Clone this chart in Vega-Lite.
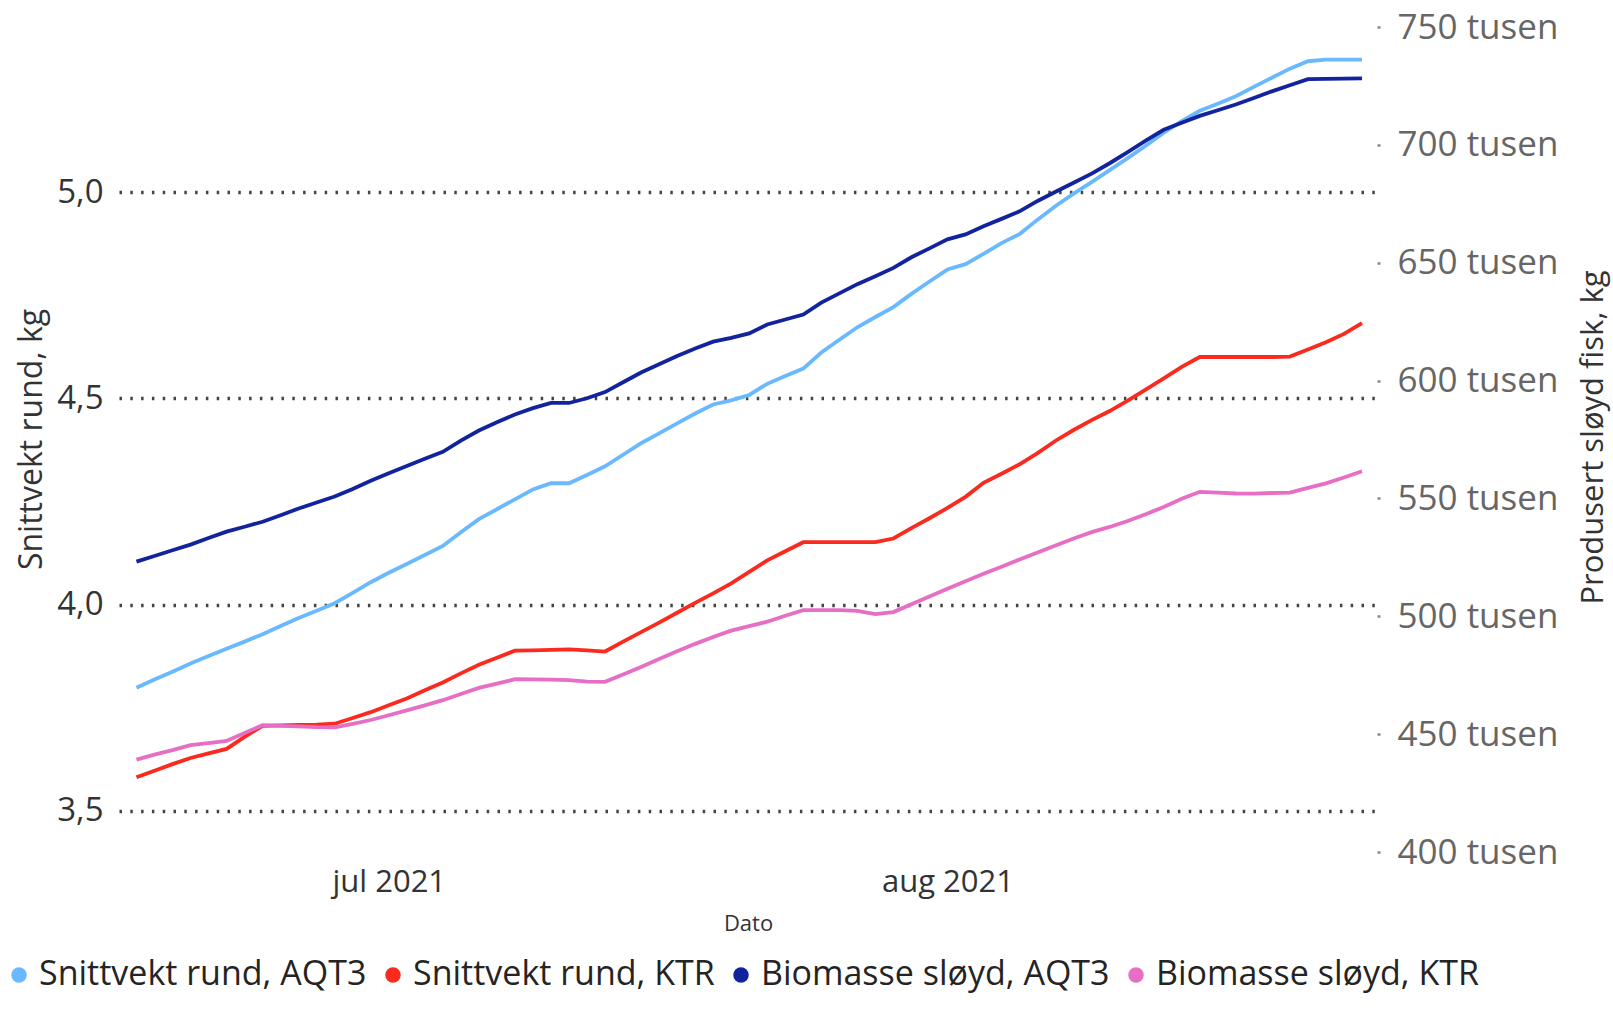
{
"$schema": "https://vega.github.io/schema/vega-lite/v6.json",
"width": 1258, "height": 825,
"autosize": "none",
"padding": {"left": 119, "top": 27, "right": 236, "bottom": 157},
"background": "white",
"config": {"view": {"stroke": null}, "font": "Open Sans"},
"datasets": {
"snitt": [
{"Dato":"2021-06-17","Serie":"Snittvekt rund, AQT3","kg":3.798},
{"Dato":"2021-06-18","Serie":"Snittvekt rund, AQT3","kg":3.818},
{"Dato":"2021-06-19","Serie":"Snittvekt rund, AQT3","kg":3.837},
{"Dato":"2021-06-20","Serie":"Snittvekt rund, AQT3","kg":3.857},
{"Dato":"2021-06-21","Serie":"Snittvekt rund, AQT3","kg":3.875},
{"Dato":"2021-06-22","Serie":"Snittvekt rund, AQT3","kg":3.893},
{"Dato":"2021-06-23","Serie":"Snittvekt rund, AQT3","kg":3.910},
{"Dato":"2021-06-24","Serie":"Snittvekt rund, AQT3","kg":3.928},
{"Dato":"2021-06-25","Serie":"Snittvekt rund, AQT3","kg":3.948},
{"Dato":"2021-06-26","Serie":"Snittvekt rund, AQT3","kg":3.967},
{"Dato":"2021-06-27","Serie":"Snittvekt rund, AQT3","kg":3.985},
{"Dato":"2021-06-28","Serie":"Snittvekt rund, AQT3","kg":4.003},
{"Dato":"2021-06-29","Serie":"Snittvekt rund, AQT3","kg":4.028},
{"Dato":"2021-06-30","Serie":"Snittvekt rund, AQT3","kg":4.054},
{"Dato":"2021-07-01","Serie":"Snittvekt rund, AQT3","kg":4.077},
{"Dato":"2021-07-02","Serie":"Snittvekt rund, AQT3","kg":4.098},
{"Dato":"2021-07-03","Serie":"Snittvekt rund, AQT3","kg":4.120},
{"Dato":"2021-07-04","Serie":"Snittvekt rund, AQT3","kg":4.142},
{"Dato":"2021-07-05","Serie":"Snittvekt rund, AQT3","kg":4.175},
{"Dato":"2021-07-06","Serie":"Snittvekt rund, AQT3","kg":4.207},
{"Dato":"2021-07-07","Serie":"Snittvekt rund, AQT3","kg":4.231},
{"Dato":"2021-07-08","Serie":"Snittvekt rund, AQT3","kg":4.255},
{"Dato":"2021-07-09","Serie":"Snittvekt rund, AQT3","kg":4.279},
{"Dato":"2021-07-10","Serie":"Snittvekt rund, AQT3","kg":4.294},
{"Dato":"2021-07-11","Serie":"Snittvekt rund, AQT3","kg":4.294},
{"Dato":"2021-07-12","Serie":"Snittvekt rund, AQT3","kg":4.314},
{"Dato":"2021-07-13","Serie":"Snittvekt rund, AQT3","kg":4.335},
{"Dato":"2021-07-14","Serie":"Snittvekt rund, AQT3","kg":4.363},
{"Dato":"2021-07-15","Serie":"Snittvekt rund, AQT3","kg":4.391},
{"Dato":"2021-07-16","Serie":"Snittvekt rund, AQT3","kg":4.415},
{"Dato":"2021-07-17","Serie":"Snittvekt rund, AQT3","kg":4.439},
{"Dato":"2021-07-18","Serie":"Snittvekt rund, AQT3","kg":4.463},
{"Dato":"2021-07-19","Serie":"Snittvekt rund, AQT3","kg":4.485},
{"Dato":"2021-07-20","Serie":"Snittvekt rund, AQT3","kg":4.495},
{"Dato":"2021-07-21","Serie":"Snittvekt rund, AQT3","kg":4.508},
{"Dato":"2021-07-22","Serie":"Snittvekt rund, AQT3","kg":4.535},
{"Dato":"2021-07-23","Serie":"Snittvekt rund, AQT3","kg":4.554},
{"Dato":"2021-07-24","Serie":"Snittvekt rund, AQT3","kg":4.572},
{"Dato":"2021-07-25","Serie":"Snittvekt rund, AQT3","kg":4.611},
{"Dato":"2021-07-26","Serie":"Snittvekt rund, AQT3","kg":4.642},
{"Dato":"2021-07-27","Serie":"Snittvekt rund, AQT3","kg":4.672},
{"Dato":"2021-07-28","Serie":"Snittvekt rund, AQT3","kg":4.697},
{"Dato":"2021-07-29","Serie":"Snittvekt rund, AQT3","kg":4.721},
{"Dato":"2021-07-30","Serie":"Snittvekt rund, AQT3","kg":4.753},
{"Dato":"2021-07-31","Serie":"Snittvekt rund, AQT3","kg":4.783},
{"Dato":"2021-08-01","Serie":"Snittvekt rund, AQT3","kg":4.812},
{"Dato":"2021-08-02","Serie":"Snittvekt rund, AQT3","kg":4.825},
{"Dato":"2021-08-03","Serie":"Snittvekt rund, AQT3","kg":4.850},
{"Dato":"2021-08-04","Serie":"Snittvekt rund, AQT3","kg":4.876},
{"Dato":"2021-08-05","Serie":"Snittvekt rund, AQT3","kg":4.898},
{"Dato":"2021-08-06","Serie":"Snittvekt rund, AQT3","kg":4.933},
{"Dato":"2021-08-07","Serie":"Snittvekt rund, AQT3","kg":4.966},
{"Dato":"2021-08-08","Serie":"Snittvekt rund, AQT3","kg":4.996},
{"Dato":"2021-08-09","Serie":"Snittvekt rund, AQT3","kg":5.024},
{"Dato":"2021-08-10","Serie":"Snittvekt rund, AQT3","kg":5.053},
{"Dato":"2021-08-11","Serie":"Snittvekt rund, AQT3","kg":5.082},
{"Dato":"2021-08-12","Serie":"Snittvekt rund, AQT3","kg":5.112},
{"Dato":"2021-08-13","Serie":"Snittvekt rund, AQT3","kg":5.144},
{"Dato":"2021-08-14","Serie":"Snittvekt rund, AQT3","kg":5.172},
{"Dato":"2021-08-15","Serie":"Snittvekt rund, AQT3","kg":5.197},
{"Dato":"2021-08-16","Serie":"Snittvekt rund, AQT3","kg":5.214},
{"Dato":"2021-08-17","Serie":"Snittvekt rund, AQT3","kg":5.232},
{"Dato":"2021-08-18","Serie":"Snittvekt rund, AQT3","kg":5.255},
{"Dato":"2021-08-19","Serie":"Snittvekt rund, AQT3","kg":5.277},
{"Dato":"2021-08-20","Serie":"Snittvekt rund, AQT3","kg":5.299},
{"Dato":"2021-08-21","Serie":"Snittvekt rund, AQT3","kg":5.317},
{"Dato":"2021-08-22","Serie":"Snittvekt rund, AQT3","kg":5.321},
{"Dato":"2021-08-23","Serie":"Snittvekt rund, AQT3","kg":5.321},
{"Dato":"2021-08-24","Serie":"Snittvekt rund, AQT3","kg":5.321},
{"Dato":"2021-06-17","Serie":"Snittvekt rund, KTR","kg":3.581},
{"Dato":"2021-06-18","Serie":"Snittvekt rund, KTR","kg":3.597},
{"Dato":"2021-06-19","Serie":"Snittvekt rund, KTR","kg":3.613},
{"Dato":"2021-06-20","Serie":"Snittvekt rund, KTR","kg":3.628},
{"Dato":"2021-06-21","Serie":"Snittvekt rund, KTR","kg":3.639},
{"Dato":"2021-06-22","Serie":"Snittvekt rund, KTR","kg":3.650},
{"Dato":"2021-06-23","Serie":"Snittvekt rund, KTR","kg":3.679},
{"Dato":"2021-06-24","Serie":"Snittvekt rund, KTR","kg":3.706},
{"Dato":"2021-06-25","Serie":"Snittvekt rund, KTR","kg":3.707},
{"Dato":"2021-06-26","Serie":"Snittvekt rund, KTR","kg":3.708},
{"Dato":"2021-06-27","Serie":"Snittvekt rund, KTR","kg":3.709},
{"Dato":"2021-06-28","Serie":"Snittvekt rund, KTR","kg":3.711},
{"Dato":"2021-06-29","Serie":"Snittvekt rund, KTR","kg":3.725},
{"Dato":"2021-06-30","Serie":"Snittvekt rund, KTR","kg":3.739},
{"Dato":"2021-07-01","Serie":"Snittvekt rund, KTR","kg":3.756},
{"Dato":"2021-07-02","Serie":"Snittvekt rund, KTR","kg":3.772},
{"Dato":"2021-07-03","Serie":"Snittvekt rund, KTR","kg":3.792},
{"Dato":"2021-07-04","Serie":"Snittvekt rund, KTR","kg":3.811},
{"Dato":"2021-07-05","Serie":"Snittvekt rund, KTR","kg":3.833},
{"Dato":"2021-07-06","Serie":"Snittvekt rund, KTR","kg":3.854},
{"Dato":"2021-07-07","Serie":"Snittvekt rund, KTR","kg":3.871},
{"Dato":"2021-07-08","Serie":"Snittvekt rund, KTR","kg":3.888},
{"Dato":"2021-07-09","Serie":"Snittvekt rund, KTR","kg":3.889},
{"Dato":"2021-07-10","Serie":"Snittvekt rund, KTR","kg":3.890},
{"Dato":"2021-07-11","Serie":"Snittvekt rund, KTR","kg":3.891},
{"Dato":"2021-07-12","Serie":"Snittvekt rund, KTR","kg":3.889},
{"Dato":"2021-07-13","Serie":"Snittvekt rund, KTR","kg":3.886},
{"Dato":"2021-07-14","Serie":"Snittvekt rund, KTR","kg":3.910},
{"Dato":"2021-07-15","Serie":"Snittvekt rund, KTR","kg":3.933},
{"Dato":"2021-07-16","Serie":"Snittvekt rund, KTR","kg":3.956},
{"Dato":"2021-07-17","Serie":"Snittvekt rund, KTR","kg":3.980},
{"Dato":"2021-07-18","Serie":"Snittvekt rund, KTR","kg":4.004},
{"Dato":"2021-07-19","Serie":"Snittvekt rund, KTR","kg":4.027},
{"Dato":"2021-07-20","Serie":"Snittvekt rund, KTR","kg":4.051},
{"Dato":"2021-07-21","Serie":"Snittvekt rund, KTR","kg":4.079},
{"Dato":"2021-07-22","Serie":"Snittvekt rund, KTR","kg":4.107},
{"Dato":"2021-07-23","Serie":"Snittvekt rund, KTR","kg":4.129},
{"Dato":"2021-07-24","Serie":"Snittvekt rund, KTR","kg":4.151},
{"Dato":"2021-07-25","Serie":"Snittvekt rund, KTR","kg":4.151},
{"Dato":"2021-07-26","Serie":"Snittvekt rund, KTR","kg":4.151},
{"Dato":"2021-07-27","Serie":"Snittvekt rund, KTR","kg":4.151},
{"Dato":"2021-07-28","Serie":"Snittvekt rund, KTR","kg":4.151},
{"Dato":"2021-07-29","Serie":"Snittvekt rund, KTR","kg":4.160},
{"Dato":"2021-07-30","Serie":"Snittvekt rund, KTR","kg":4.185},
{"Dato":"2021-07-31","Serie":"Snittvekt rund, KTR","kg":4.209},
{"Dato":"2021-08-01","Serie":"Snittvekt rund, KTR","kg":4.234},
{"Dato":"2021-08-02","Serie":"Snittvekt rund, KTR","kg":4.261},
{"Dato":"2021-08-03","Serie":"Snittvekt rund, KTR","kg":4.295},
{"Dato":"2021-08-04","Serie":"Snittvekt rund, KTR","kg":4.317},
{"Dato":"2021-08-05","Serie":"Snittvekt rund, KTR","kg":4.340},
{"Dato":"2021-08-06","Serie":"Snittvekt rund, KTR","kg":4.367},
{"Dato":"2021-08-07","Serie":"Snittvekt rund, KTR","kg":4.397},
{"Dato":"2021-08-08","Serie":"Snittvekt rund, KTR","kg":4.423},
{"Dato":"2021-08-09","Serie":"Snittvekt rund, KTR","kg":4.447},
{"Dato":"2021-08-10","Serie":"Snittvekt rund, KTR","kg":4.469},
{"Dato":"2021-08-11","Serie":"Snittvekt rund, KTR","kg":4.494},
{"Dato":"2021-08-12","Serie":"Snittvekt rund, KTR","kg":4.521},
{"Dato":"2021-08-13","Serie":"Snittvekt rund, KTR","kg":4.548},
{"Dato":"2021-08-14","Serie":"Snittvekt rund, KTR","kg":4.576},
{"Dato":"2021-08-15","Serie":"Snittvekt rund, KTR","kg":4.600},
{"Dato":"2021-08-16","Serie":"Snittvekt rund, KTR","kg":4.600},
{"Dato":"2021-08-17","Serie":"Snittvekt rund, KTR","kg":4.600},
{"Dato":"2021-08-18","Serie":"Snittvekt rund, KTR","kg":4.600},
{"Dato":"2021-08-19","Serie":"Snittvekt rund, KTR","kg":4.600},
{"Dato":"2021-08-20","Serie":"Snittvekt rund, KTR","kg":4.601},
{"Dato":"2021-08-21","Serie":"Snittvekt rund, KTR","kg":4.618},
{"Dato":"2021-08-22","Serie":"Snittvekt rund, KTR","kg":4.636},
{"Dato":"2021-08-23","Serie":"Snittvekt rund, KTR","kg":4.656},
{"Dato":"2021-08-24","Serie":"Snittvekt rund, KTR","kg":4.682}
],
"bio": [
{"Dato":"2021-06-17","Serie":"Biomasse sløyd, AQT3","kg":523200},
{"Dato":"2021-06-18","Serie":"Biomasse sløyd, AQT3","kg":525600},
{"Dato":"2021-06-19","Serie":"Biomasse sløyd, AQT3","kg":528000},
{"Dato":"2021-06-20","Serie":"Biomasse sløyd, AQT3","kg":530400},
{"Dato":"2021-06-21","Serie":"Biomasse sløyd, AQT3","kg":533200},
{"Dato":"2021-06-22","Serie":"Biomasse sløyd, AQT3","kg":535900},
{"Dato":"2021-06-23","Serie":"Biomasse sløyd, AQT3","kg":538000},
{"Dato":"2021-06-24","Serie":"Biomasse sløyd, AQT3","kg":540100},
{"Dato":"2021-06-25","Serie":"Biomasse sløyd, AQT3","kg":542900},
{"Dato":"2021-06-26","Serie":"Biomasse sløyd, AQT3","kg":545700},
{"Dato":"2021-06-27","Serie":"Biomasse sløyd, AQT3","kg":548300},
{"Dato":"2021-06-28","Serie":"Biomasse sløyd, AQT3","kg":550800},
{"Dato":"2021-06-29","Serie":"Biomasse sløyd, AQT3","kg":554000},
{"Dato":"2021-06-30","Serie":"Biomasse sløyd, AQT3","kg":557500},
{"Dato":"2021-07-01","Serie":"Biomasse sløyd, AQT3","kg":560700},
{"Dato":"2021-07-02","Serie":"Biomasse sløyd, AQT3","kg":563800},
{"Dato":"2021-07-03","Serie":"Biomasse sløyd, AQT3","kg":566800},
{"Dato":"2021-07-04","Serie":"Biomasse sløyd, AQT3","kg":569800},
{"Dato":"2021-07-05","Serie":"Biomasse sløyd, AQT3","kg":574500},
{"Dato":"2021-07-06","Serie":"Biomasse sløyd, AQT3","kg":578800},
{"Dato":"2021-07-07","Serie":"Biomasse sløyd, AQT3","kg":582300},
{"Dato":"2021-07-08","Serie":"Biomasse sløyd, AQT3","kg":585600},
{"Dato":"2021-07-09","Serie":"Biomasse sløyd, AQT3","kg":588300},
{"Dato":"2021-07-10","Serie":"Biomasse sløyd, AQT3","kg":590500},
{"Dato":"2021-07-11","Serie":"Biomasse sløyd, AQT3","kg":590500},
{"Dato":"2021-07-12","Serie":"Biomasse sløyd, AQT3","kg":592500},
{"Dato":"2021-07-13","Serie":"Biomasse sløyd, AQT3","kg":595100},
{"Dato":"2021-07-14","Serie":"Biomasse sløyd, AQT3","kg":599300},
{"Dato":"2021-07-15","Serie":"Biomasse sløyd, AQT3","kg":603400},
{"Dato":"2021-07-16","Serie":"Biomasse sløyd, AQT3","kg":606900},
{"Dato":"2021-07-17","Serie":"Biomasse sløyd, AQT3","kg":610400},
{"Dato":"2021-07-18","Serie":"Biomasse sløyd, AQT3","kg":613600},
{"Dato":"2021-07-19","Serie":"Biomasse sløyd, AQT3","kg":616500},
{"Dato":"2021-07-20","Serie":"Biomasse sløyd, AQT3","kg":618100},
{"Dato":"2021-07-21","Serie":"Biomasse sløyd, AQT3","kg":620000},
{"Dato":"2021-07-22","Serie":"Biomasse sløyd, AQT3","kg":623800},
{"Dato":"2021-07-23","Serie":"Biomasse sløyd, AQT3","kg":625900},
{"Dato":"2021-07-24","Serie":"Biomasse sløyd, AQT3","kg":628000},
{"Dato":"2021-07-25","Serie":"Biomasse sløyd, AQT3","kg":633100},
{"Dato":"2021-07-26","Serie":"Biomasse sløyd, AQT3","kg":637000},
{"Dato":"2021-07-27","Serie":"Biomasse sløyd, AQT3","kg":640900},
{"Dato":"2021-07-28","Serie":"Biomasse sløyd, AQT3","kg":644300},
{"Dato":"2021-07-29","Serie":"Biomasse sløyd, AQT3","kg":647800},
{"Dato":"2021-07-30","Serie":"Biomasse sløyd, AQT3","kg":652300},
{"Dato":"2021-07-31","Serie":"Biomasse sløyd, AQT3","kg":656100},
{"Dato":"2021-08-01","Serie":"Biomasse sløyd, AQT3","kg":659900},
{"Dato":"2021-08-02","Serie":"Biomasse sløyd, AQT3","kg":662000},
{"Dato":"2021-08-03","Serie":"Biomasse sløyd, AQT3","kg":665500},
{"Dato":"2021-08-04","Serie":"Biomasse sløyd, AQT3","kg":668600},
{"Dato":"2021-08-05","Serie":"Biomasse sløyd, AQT3","kg":671800},
{"Dato":"2021-08-06","Serie":"Biomasse sløyd, AQT3","kg":676200},
{"Dato":"2021-08-07","Serie":"Biomasse sløyd, AQT3","kg":680100},
{"Dato":"2021-08-08","Serie":"Biomasse sløyd, AQT3","kg":683900},
{"Dato":"2021-08-09","Serie":"Biomasse sløyd, AQT3","kg":687800},
{"Dato":"2021-08-10","Serie":"Biomasse sløyd, AQT3","kg":692200},
{"Dato":"2021-08-11","Serie":"Biomasse sløyd, AQT3","kg":696900},
{"Dato":"2021-08-12","Serie":"Biomasse sløyd, AQT3","kg":701800},
{"Dato":"2021-08-13","Serie":"Biomasse sløyd, AQT3","kg":706400},
{"Dato":"2021-08-14","Serie":"Biomasse sløyd, AQT3","kg":709400},
{"Dato":"2021-08-15","Serie":"Biomasse sløyd, AQT3","kg":712300},
{"Dato":"2021-08-16","Serie":"Biomasse sløyd, AQT3","kg":714700},
{"Dato":"2021-08-17","Serie":"Biomasse sløyd, AQT3","kg":717100},
{"Dato":"2021-08-18","Serie":"Biomasse sløyd, AQT3","kg":719900},
{"Dato":"2021-08-19","Serie":"Biomasse sløyd, AQT3","kg":722700},
{"Dato":"2021-08-20","Serie":"Biomasse sløyd, AQT3","kg":725300},
{"Dato":"2021-08-21","Serie":"Biomasse sløyd, AQT3","kg":727900},
{"Dato":"2021-08-22","Serie":"Biomasse sløyd, AQT3","kg":728000},
{"Dato":"2021-08-23","Serie":"Biomasse sløyd, AQT3","kg":728100},
{"Dato":"2021-08-24","Serie":"Biomasse sløyd, AQT3","kg":728200},
{"Dato":"2021-06-17","Serie":"Biomasse sløyd, KTR","kg":439200},
{"Dato":"2021-06-18","Serie":"Biomasse sløyd, KTR","kg":441300},
{"Dato":"2021-06-19","Serie":"Biomasse sløyd, KTR","kg":443200},
{"Dato":"2021-06-20","Serie":"Biomasse sløyd, KTR","kg":445300},
{"Dato":"2021-06-21","Serie":"Biomasse sløyd, KTR","kg":446200},
{"Dato":"2021-06-22","Serie":"Biomasse sløyd, KTR","kg":447100},
{"Dato":"2021-06-23","Serie":"Biomasse sløyd, KTR","kg":450500},
{"Dato":"2021-06-24","Serie":"Biomasse sløyd, KTR","kg":453800},
{"Dato":"2021-06-25","Serie":"Biomasse sløyd, KTR","kg":453500},
{"Dato":"2021-06-26","Serie":"Biomasse sløyd, KTR","kg":453300},
{"Dato":"2021-06-27","Serie":"Biomasse sløyd, KTR","kg":453000},
{"Dato":"2021-06-28","Serie":"Biomasse sløyd, KTR","kg":452900},
{"Dato":"2021-06-29","Serie":"Biomasse sløyd, KTR","kg":454400},
{"Dato":"2021-06-30","Serie":"Biomasse sløyd, KTR","kg":456000},
{"Dato":"2021-07-01","Serie":"Biomasse sløyd, KTR","kg":458000},
{"Dato":"2021-07-02","Serie":"Biomasse sløyd, KTR","kg":460100},
{"Dato":"2021-07-03","Serie":"Biomasse sløyd, KTR","kg":462200},
{"Dato":"2021-07-04","Serie":"Biomasse sløyd, KTR","kg":464400},
{"Dato":"2021-07-05","Serie":"Biomasse sløyd, KTR","kg":467000},
{"Dato":"2021-07-06","Serie":"Biomasse sløyd, KTR","kg":469600},
{"Dato":"2021-07-07","Serie":"Biomasse sløyd, KTR","kg":471400},
{"Dato":"2021-07-08","Serie":"Biomasse sløyd, KTR","kg":473300},
{"Dato":"2021-07-09","Serie":"Biomasse sløyd, KTR","kg":473200},
{"Dato":"2021-07-10","Serie":"Biomasse sløyd, KTR","kg":473100},
{"Dato":"2021-07-11","Serie":"Biomasse sløyd, KTR","kg":472900},
{"Dato":"2021-07-12","Serie":"Biomasse sløyd, KTR","kg":472300},
{"Dato":"2021-07-13","Serie":"Biomasse sløyd, KTR","kg":472200},
{"Dato":"2021-07-14","Serie":"Biomasse sløyd, KTR","kg":475300},
{"Dato":"2021-07-15","Serie":"Biomasse sløyd, KTR","kg":478500},
{"Dato":"2021-07-16","Serie":"Biomasse sløyd, KTR","kg":481900},
{"Dato":"2021-07-17","Serie":"Biomasse sløyd, KTR","kg":485200},
{"Dato":"2021-07-18","Serie":"Biomasse sløyd, KTR","kg":488300},
{"Dato":"2021-07-19","Serie":"Biomasse sløyd, KTR","kg":491200},
{"Dato":"2021-07-20","Serie":"Biomasse sløyd, KTR","kg":493900},
{"Dato":"2021-07-21","Serie":"Biomasse sløyd, KTR","kg":495800},
{"Dato":"2021-07-22","Serie":"Biomasse sløyd, KTR","kg":497700},
{"Dato":"2021-07-23","Serie":"Biomasse sløyd, KTR","kg":500200},
{"Dato":"2021-07-24","Serie":"Biomasse sløyd, KTR","kg":502600},
{"Dato":"2021-07-25","Serie":"Biomasse sløyd, KTR","kg":502600},
{"Dato":"2021-07-26","Serie":"Biomasse sløyd, KTR","kg":502600},
{"Dato":"2021-07-27","Serie":"Biomasse sløyd, KTR","kg":502300},
{"Dato":"2021-07-28","Serie":"Biomasse sløyd, KTR","kg":500900},
{"Dato":"2021-07-29","Serie":"Biomasse sløyd, KTR","kg":501800},
{"Dato":"2021-07-30","Serie":"Biomasse sløyd, KTR","kg":505100},
{"Dato":"2021-07-31","Serie":"Biomasse sløyd, KTR","kg":508400},
{"Dato":"2021-08-01","Serie":"Biomasse sløyd, KTR","kg":511700},
{"Dato":"2021-08-02","Serie":"Biomasse sløyd, KTR","kg":514900},
{"Dato":"2021-08-03","Serie":"Biomasse sløyd, KTR","kg":518000},
{"Dato":"2021-08-04","Serie":"Biomasse sløyd, KTR","kg":521000},
{"Dato":"2021-08-05","Serie":"Biomasse sløyd, KTR","kg":524100},
{"Dato":"2021-08-06","Serie":"Biomasse sløyd, KTR","kg":527100},
{"Dato":"2021-08-07","Serie":"Biomasse sløyd, KTR","kg":530000},
{"Dato":"2021-08-08","Serie":"Biomasse sløyd, KTR","kg":533000},
{"Dato":"2021-08-09","Serie":"Biomasse sløyd, KTR","kg":535700},
{"Dato":"2021-08-10","Serie":"Biomasse sløyd, KTR","kg":537900},
{"Dato":"2021-08-11","Serie":"Biomasse sløyd, KTR","kg":540400},
{"Dato":"2021-08-12","Serie":"Biomasse sløyd, KTR","kg":543300},
{"Dato":"2021-08-13","Serie":"Biomasse sløyd, KTR","kg":546400},
{"Dato":"2021-08-14","Serie":"Biomasse sløyd, KTR","kg":549900},
{"Dato":"2021-08-15","Serie":"Biomasse sløyd, KTR","kg":552800},
{"Dato":"2021-08-16","Serie":"Biomasse sløyd, KTR","kg":552500},
{"Dato":"2021-08-17","Serie":"Biomasse sløyd, KTR","kg":552100},
{"Dato":"2021-08-18","Serie":"Biomasse sløyd, KTR","kg":552000},
{"Dato":"2021-08-19","Serie":"Biomasse sløyd, KTR","kg":552300},
{"Dato":"2021-08-20","Serie":"Biomasse sløyd, KTR","kg":552500},
{"Dato":"2021-08-21","Serie":"Biomasse sløyd, KTR","kg":554500},
{"Dato":"2021-08-22","Serie":"Biomasse sløyd, KTR","kg":556400},
{"Dato":"2021-08-23","Serie":"Biomasse sløyd, KTR","kg":558900},
{"Dato":"2021-08-24","Serie":"Biomasse sløyd, KTR","kg":561500}
]
},
"encoding": {
  "x": {"field": "Dato", "type": "temporal",
    "scale": {"type": "utc", "domain": [1623804300000, 1629835200000]},
    "axis": {"values": [1625097600000, 1627776000000],
      "labelExpr": "lower(utcFormat(datum.value, '%b %Y'))",
      "labelFontSize": 31, "labelColor": "#333333", "labelPadding": 15,
      "ticks": false, "domain": false, "grid": false,
      "title": "Dato", "titleFontSize": 22, "titleFontWeight": "normal", "titleColor": "#333333",
      "titleY": 71, "titleBaseline": "middle"}},
  "color": {"field": "Serie", "type": "nominal",
    "scale": {"domain": ["Snittvekt rund, AQT3", "Snittvekt rund, KTR", "Biomasse sløyd, AQT3", "Biomasse sløyd, KTR"],
              "range": ["#6AB9FF", "#FA2A1E", "#12239E", "#E66EC4"]},
    "legend": {"orient": "none", "legendX": -117, "legendY": 931, "direction": "horizontal", "title": null,
      "symbolType": "circle", "symbolSize": 240, "symbolStrokeWidth": 0, "padding": 0,
      "labelFontSize": 34, "labelColor": "#252423", "labelOffset": 3, "columnPadding": 9, "labelLimit": 600,
      "encode": {"symbols": {"update": {"fill": {"scale": "color", "field": "value"}, "fillOpacity": {"value": 1}, "strokeWidth": {"value": 0}}}}}}
},
"layer": [
  {"data": {"name": "snitt"},
   "mark": {"type": "line", "strokeWidth": 3.8},
   "encoding": {"y": {"field": "kg", "type": "quantitative",
      "scale": {"domain": [3.4, 5.4], "nice": false, "zero": false},
      "axis": {"orient": "left", "values": [3.5, 4, 4.5, 5],
        "labelExpr": "replace(format(datum.value, '.1f'), '.', ',')",
        "labelFontSize": 33, "labelColor": "#333333", "labelPadding": 16,
        "ticks": false, "domain": false,
        "grid": true, "gridDash": [2.5, 8.3], "gridColor": "#444444", "gridWidth": 3.5,
        "title": "Snittvekt rund, kg", "titleFontSize": 32, "titleFontWeight": "normal", "titleColor": "#333333",
        "titleX": -88, "titleY": 412, "titleAngle": -90, "titleBaseline": "middle", "titleAlign": "center"}}}},
  {"data": {"name": "bio"},
   "mark": {"type": "line", "strokeWidth": 3.8},
   "encoding": {"y": {"field": "kg", "type": "quantitative",
      "scale": {"domain": [400000, 750000], "nice": false, "zero": false},
      "axis": {"orient": "right", "values": [400000, 450000, 500000, 550000, 600000, 650000, 700000, 750000],
        "labelExpr": "format(datum.value / 1000, 'd') + ' tusen'",
        "labelFontSize": 35, "labelColor": "#666666", "labelPadding": 17,
        "ticks": true, "tickSize": 3, "tickWidth": 2.5, "tickColor": "#888888",
        "domain": false, "grid": false,
        "title": "Produsert sløyd fisk, kg", "titleFontSize": 31, "titleFontWeight": "normal", "titleColor": "#333333",
        "titleX": 216, "titleY": 410, "titleAngle": -90, "titleBaseline": "middle", "titleAlign": "center"}}}}
],
"resolve": {"scale": {"y": "independent"}}
}
